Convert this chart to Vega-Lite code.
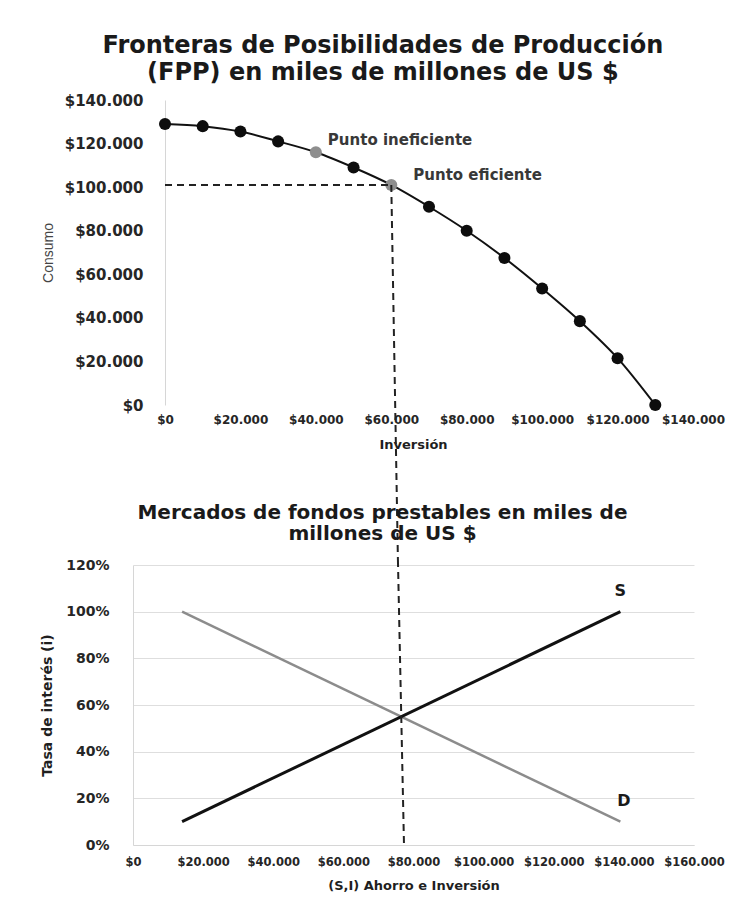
{
  "$schema": "https://vega.github.io/schema/vega-lite/v6.json",
  "background": "white",
  "padding": {"left": 40, "top": 34, "right": 5, "bottom": 5},
  "spacing": -75,
  "config": {
    "locale": {"number": {"decimal": ",", "thousands": ".", "grouping": [3], "currency": ["$", ""]}},
    "font": "Liberation Sans",
    "view": {"stroke": null},
    "axis": {
      "grid": false, "ticks": false, "domainColor": "#d6d6d6", "domainWidth": 1,
      "labelColor": "#262626", "labelFont": "DejaVu Sans", "labelFontWeight": "bold", "labelFontSize": 12,
      "labelOverlap": false, "labelFlush": false,
      "titleColor": "#1f1f1f", "titleFont": "DejaVu Sans", "titleFontWeight": "bold", "titleFontSize": 13
    },
    "axisY": {"grid": true, "gridColor": "#dedede", "gridWidth": 1, "labelFontSize": 14},
    "title": {"font": "DejaVu Sans", "fontWeight": "bold", "color": "#1a1a1a", "anchor": "middle", "frame": "bounds"}
  },
  "datasets": {
    "fpp": [
      {"x": 0, "y": 129000, "tipo": "negro"},
      {"x": 10000, "y": 128000, "tipo": "negro"},
      {"x": 20000, "y": 125500, "tipo": "negro"},
      {"x": 30000, "y": 121000, "tipo": "negro"},
      {"x": 40000, "y": 116000, "tipo": "gris"},
      {"x": 50000, "y": 109000, "tipo": "negro"},
      {"x": 60000, "y": 101000, "tipo": "gris"},
      {"x": 70000, "y": 91000, "tipo": "negro"},
      {"x": 80000, "y": 80000, "tipo": "negro"},
      {"x": 90000, "y": 67500, "tipo": "negro"},
      {"x": 100000, "y": 53500, "tipo": "negro"},
      {"x": 110000, "y": 38500, "tipo": "negro"},
      {"x": 120000, "y": 21500, "tipo": "negro"},
      {"x": 130000, "y": 0, "tipo": "negro"}
    ],
    "mercado": [
      {"curva": "S", "x": 14000, "y": 0.10},
      {"curva": "S", "x": 139000, "y": 1.00},
      {"curva": "D", "x": 14000, "y": 1.00},
      {"curva": "D", "x": 139000, "y": 0.10}
    ],
    "rejilla": [
      {"y": 0}, {"y": 20000}, {"y": 40000}, {"y": 60000}, {"y": 80000}, {"y": 100000}, {"y": 120000}, {"y": 140000}
    ]
  },
  "vconcat": [
    {
      "title": {"text": ["Fronteras de Posibilidades de Producción", "(FPP) en miles de millones de US $"], "fontSize": 24, "lineHeight": 27, "offset": 8},
      "width": 560,
      "height": 305,
      "encoding": {
        "x": {"field": "x", "type": "quantitative", "scale": {"domain": [-8485, 140000], "nice": false, "zero": false},
              "axis": {"values": [0, 20000, 40000, 60000, 80000, 100000, 120000, 140000], "format": "$,.0f", "title": "Inversión", "domain": false, "labelPadding": 9, "titlePadding": 13}},
        "y": {"field": "y", "type": "quantitative", "scale": {"domain": [0, 140000], "nice": false},
              "axis": {"values": [0, 20000, 40000, 60000, 80000, 100000, 120000, 140000], "format": "$,.0f", "title": "Consumo", "grid": false, "offset": -32, "labelFontSize": 15, "labelPadding": 22, "titlePadding": 9, "titleFontWeight": "normal", "titleColor": "#444444", "titleFont": "Liberation Sans", "titleFontSize": 14}}
      },
      "layer": [
        {"data": {"name": "rejilla"}, "mark": {"type": "rule", "color": "#dedede", "strokeWidth": 1},
         "encoding": {"x": {"datum": 0, "type": "quantitative"}, "x2": {"datum": 140000}}},
        {"data": {"name": "fpp"}, "mark": {"type": "line", "color": "#111111", "strokeWidth": 2, "interpolate": "monotone"}},
        {"data": {"name": "fpp"}, "mark": {"type": "point", "filled": true, "size": 145, "opacity": 1},
         "encoding": {"color": {"field": "tipo", "type": "nominal", "scale": {"domain": ["negro", "gris"], "range": ["#0d0d0d", "#8e8e8e"]}, "legend": null}}},
        {"data": {"values": [{"x": 0, "x2": 60000, "y": 101000}]}, "mark": {"type": "rule", "strokeDash": [7, 5], "strokeWidth": 2, "color": "#222222"},
         "encoding": {"x2": {"field": "x2"}}},
        {"data": {"values": [{"x": 60000, "y": 101000}, {"x": 61760, "y": -71148}]}, "mark": {"type": "line", "strokeDash": [7, 5], "strokeWidth": 2, "color": "#222222", "clip": false}},
        {"data": {"values": [{"x": 40000, "y": 116000, "label": "Punto ineficiente"}]}, "mark": {"type": "text", "align": "left", "baseline": "middle", "dx": 12, "dy": -12, "font": "DejaVu Sans", "fontWeight": "bold", "fontSize": 15, "color": "#383838"},
         "encoding": {"text": {"field": "label"}}},
        {"data": {"values": [{"x": 60000, "y": 101000, "label": "Punto eficiente"}]}, "mark": {"type": "text", "align": "left", "baseline": "middle", "dx": 22, "dy": -10, "font": "DejaVu Sans", "fontWeight": "bold", "fontSize": 15, "color": "#383838"},
         "encoding": {"text": {"field": "label"}}}
      ]
    },
    {
      "title": {"text": ["Mercados de fondos prestables en miles de", "millones de US $"], "fontSize": 20, "lineHeight": 21, "offset": 12},
      "width": 561,
      "height": 280,
      "encoding": {
        "x": {"field": "x", "type": "quantitative", "scale": {"domain": [0, 160000]},
              "axis": {"values": [0, 20000, 40000, 60000, 80000, 100000, 120000, 140000, 160000], "format": "$,.0f", "title": "(S,I) Ahorro e Inversión", "labelPadding": 11, "titlePadding": 12, "labelFontSize": 11.5}},
        "y": {"field": "y", "type": "quantitative", "scale": {"domain": [0, 1.2], "nice": false},
              "axis": {"values": [0, 0.2, 0.4, 0.6, 0.8, 1.0, 1.2], "format": ".0%", "title": "Tasa de interés (i)", "labelPadding": 24, "titlePadding": 11, "titleFontSize": 14}}
      },
      "layer": [
        {"data": {"name": "mercado"}, "transform": [{"filter": "datum.curva === 'D'"}], "mark": {"type": "line", "color": "#8c8c8c", "strokeWidth": 2.5}},
        {"data": {"name": "mercado"}, "transform": [{"filter": "datum.curva === 'S'"}], "mark": {"type": "line", "color": "#111111", "strokeWidth": 3}},
        {"data": {"values": [{"x": 75560, "y": 1.2214}, {"x": 77290, "y": 0}]}, "mark": {"type": "line", "strokeDash": [7, 5], "strokeWidth": 2, "color": "#222222", "clip": false}},
        {"data": {"values": [{"x": 139000, "y": 1.09, "label": "S"}, {"x": 140000, "y": 0.19, "label": "D"}]}, "mark": {"type": "text", "font": "DejaVu Sans", "fontWeight": "bold", "fontSize": 16, "color": "#1a1a1a"},
         "encoding": {"text": {"field": "label"}}}
      ]
    }
  ]
}
